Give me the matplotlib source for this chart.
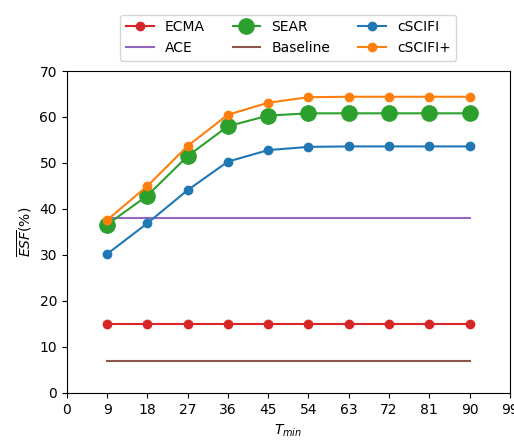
import matplotlib
matplotlib.use("Agg")
import matplotlib.pyplot as plt

t_min = [9, 18, 27, 36, 45, 54, 63, 72, 81, 90]
ecma = [15.0] * 10
ace = [38.1] * 10
sear = [36.6, 42.9, 51.5, 58.0, 60.3, 60.8, 60.8, 60.8, 60.8, 60.8]
baseline = [7.0] * 10
cscifi = [30.2, 36.9, 44.1, 50.3, 52.8, 53.5, 53.6, 53.6, 53.6, 53.6]
cscifi_plus = [37.6, 45.0, 53.7, 60.5, 63.1, 64.3, 64.4, 64.4, 64.4, 64.4]
xticks = list(range(0, 100, 9))

fig = plt.figure(figsize=(5.14, 4.41), dpi=100)
ax = fig.add_axes([0.130, 0.109, 0.862, 0.730])

ax.plot(t_min, ecma, color='C3', marker='o', label='ECMA')
ax.plot(t_min, ace, color='C4', label='ACE')
ax.plot(t_min, sear, color='C2', marker='o', markersize=11, label='SEAR')
ax.plot(t_min, baseline, color='C5', label='Baseline')
ax.plot(t_min, cscifi, color='C0', marker='o', label='cSCIFI')
ax.plot(t_min, cscifi_plus, color='C1', marker='o', label='cSCIFI+')

ax.set_xlim(0, 99)
ax.set_ylim(0, 70)
ax.set_xticks(xticks)
ax.set_xlabel(r'$T_{min}$')
ax.set_ylabel(r'$\overline{ESF}(\%)$')
ax.legend(loc='lower center', bbox_to_anchor=(0.5, 1.01), ncol=3)

fig.savefig("out.png", dpi=100)
